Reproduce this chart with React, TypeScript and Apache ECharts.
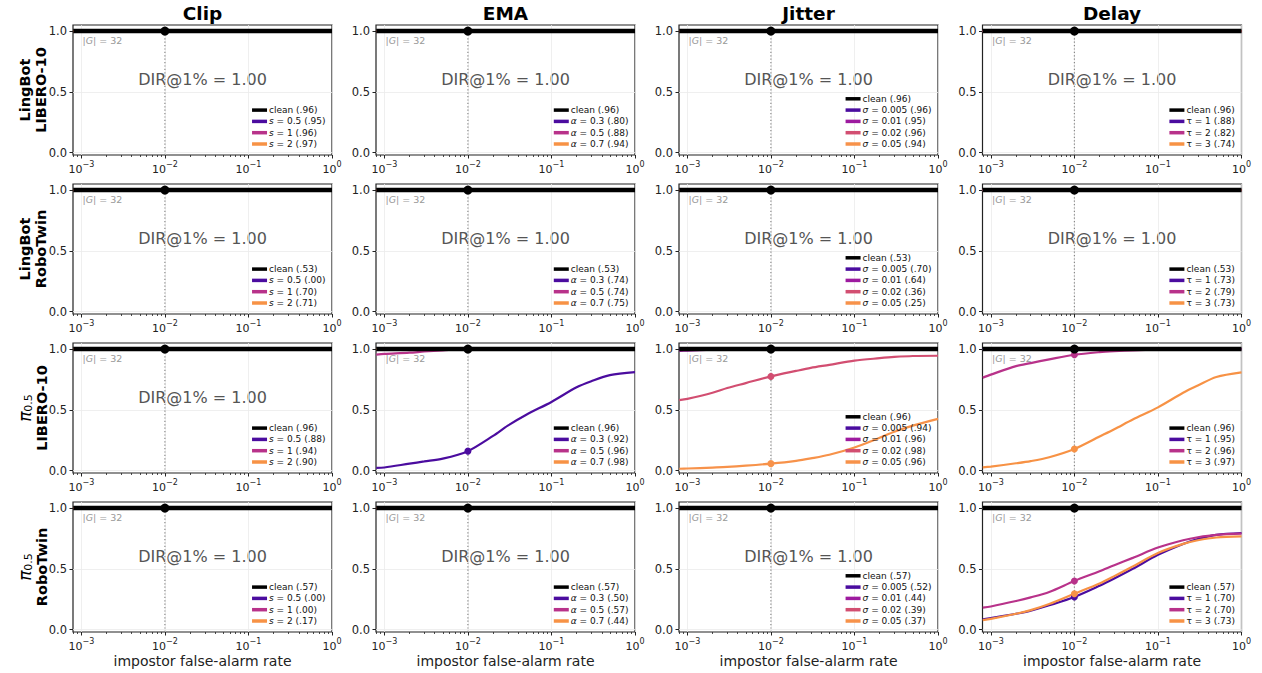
import React, { useEffect, useRef } from "react";
import * as echarts from "echarts";

const W = 1262;
const H = 673;
const FONT = "DejaVu Sans";

// ---------- layout ----------
const PLOT_LEFTS = [73, 376, 679, 982.5];
const PLOT_TOPS = [25, 184, 343, 502];
const PLOT_W = 259;
const PLOT_H = 130;

const X_MIN = -3.1; // log10(impostor false-alarm rate)
const X_MAX = 0;
const Y_MIN = -0.02;
const Y_MAX = 1.05;

// ---------- text ----------
const COLUMN_TITLES = ["Clip", "EMA", "Jitter", "Delay"];
const ROW_POLICIES = ["LingBot", "LingBot", "π0.5", "π0.5"];
const ROW_BENCHMARKS = ["LIBERO-10", "RoboTwin", "LIBERO-10", "RoboTwin"];
const X_AXIS_NAME = "impostor false-alarm rate";
const GROUP_TEXT = "|G| = 32";
const DIR_TEXT = "DIR@1% = 1.00";

// ---------- ticks ----------
const X_TICK_EXPONENTS = [-3, -2, -1, 0];
const X_MINOR_MULTIPLIERS = [2, 3, 4, 5, 6, 7, 8, 9];
const X_MINOR_DECADES = [-4, -3, -2, -1];
const Y_TICKS = [0, 0.5, 1.0];
const THRESHOLD_FPR = 0.01;

// ---------- data ----------
const FPR = [0.0008, 0.001, 0.002, 0.003, 0.005, 0.01, 0.02, 0.03, 0.05, 0.1, 0.2, 0.3, 0.5, 1];
const CLEAN_TPR = [1, 1, 1, 1, 1, 1, 1, 1, 1, 1, 1, 1, 1, 1];
const SATURATED_TPR = [1, 1, 1, 1, 1, 1, 1, 1, 1, 1, 1, 1, 1, 1];

const EMA_PI05_LIBERO_A03 = [0.022, 0.025, 0.057, 0.075, 0.098, 0.16, 0.285, 0.37, 0.46, 0.565, 0.685, 0.735, 0.785, 0.81];
const EMA_PI05_LIBERO_A05 = [0.955, 0.96, 0.97, 0.98, 0.99, 1.0, 1, 1, 1, 1, 1, 1, 1, 1];
const JIT_PI05_LIBERO_S001 = [0.985, 0.988, 0.995, 1, 1, 1, 1, 1, 1, 1, 1, 1, 1, 1];
const JIT_PI05_LIBERO_S002 = [0.58, 0.59, 0.64, 0.68, 0.72, 0.775, 0.82, 0.845, 0.87, 0.905, 0.925, 0.935, 0.943, 0.945];
const JIT_PI05_LIBERO_S005 = [0.015, 0.017, 0.025, 0.03, 0.04, 0.057, 0.08, 0.1, 0.13, 0.19, 0.27, 0.32, 0.37, 0.425];
const DELAY_PI05_LIBERO_T2 = [0.765, 0.79, 0.86, 0.885, 0.915, 0.953, 0.975, 0.983, 0.99, 0.995, 1, 1, 1, 1];
const DELAY_PI05_LIBERO_T3 = [0.027, 0.033, 0.06, 0.078, 0.11, 0.178, 0.28, 0.34, 0.42, 0.52, 0.64, 0.7, 0.77, 0.808];
const DELAY_PI05_ROBO_T1 = [0.085, 0.095, 0.13, 0.155, 0.2, 0.268, 0.36, 0.42, 0.5, 0.615, 0.705, 0.745, 0.78, 0.795];
const DELAY_PI05_ROBO_T2 = [0.18, 0.19, 0.235, 0.265, 0.31, 0.4, 0.48, 0.53, 0.59, 0.675, 0.735, 0.76, 0.78, 0.79];
const DELAY_PI05_ROBO_T3 = [0.078, 0.088, 0.13, 0.16, 0.21, 0.295, 0.38, 0.44, 0.52, 0.63, 0.705, 0.735, 0.758, 0.767];

const S = SATURATED_TPR;

const CLEAN_AUC = [0.96, 0.53, 0.96, 0.57];

const CLIP_LEVELS = ["0.5", "1", "2"];
const EMA_LEVELS = ["0.3", "0.5", "0.7"];
const JITTER_LEVELS = ["0.005", "0.01", "0.02", "0.05"];
const DELAY_LEVELS = ["1", "2", "3"];

const CLIP_AUC = [[0.95, 0.96, 0.97], [0.0, 0.7, 0.71], [0.88, 0.94, 0.9], [0.0, 0.0, 0.17]];
const EMA_AUC = [[0.8, 0.88, 0.94], [0.74, 0.74, 0.75], [0.92, 0.96, 0.98], [0.5, 0.57, 0.44]];
const JITTER_AUC = [[0.96, 0.95, 0.96, 0.94], [0.7, 0.64, 0.36, 0.25], [0.94, 0.96, 0.98, 0.96], [0.52, 0.44, 0.39, 0.37]];
const DELAY_AUC = [[0.88, 0.82, 0.74], [0.73, 0.79, 0.73], [0.95, 0.96, 0.97], [0.7, 0.7, 0.73]];

const CLIP_CURVES = [[S, S, S], [S, S, S], [S, S, S], [S, S, S]];
const EMA_CURVES = [[S, S, S], [S, S, S], [EMA_PI05_LIBERO_A03, EMA_PI05_LIBERO_A05, S], [S, S, S]];
const JITTER_CURVES = [
  [S, S, S, S],
  [S, S, S, S],
  [S, JIT_PI05_LIBERO_S001, JIT_PI05_LIBERO_S002, JIT_PI05_LIBERO_S005],
  [S, S, S, S],
];
const DELAY_CURVES = [
  [S, S, S],
  [S, S, S],
  [S, DELAY_PI05_LIBERO_T2, DELAY_PI05_LIBERO_T3],
  [DELAY_PI05_ROBO_T1, DELAY_PI05_ROBO_T2, DELAY_PI05_ROBO_T3],
];

// DIR@1% per panel (null = not annotated)
const DIR_AT_1PCT = [
  [1, 1, 1, 1],
  [1, 1, 1, 1],
  [1, null, null, null],
  [1, 1, 1, null],
];

// ---------- styles ----------
const COLORS_3 = ["#4b0c9f", "#b8328a", "#f79245"];
const COLORS_4 = ["#4a0c9f", "#9d1a9f", "#d24e71", "#f7924a"];

const GROUPS = [
  { symbol: "s", italic: true, levels: CLIP_LEVELS, auc: CLIP_AUC, curves: CLIP_CURVES, colors: COLORS_3 },
  { symbol: "α", italic: true, levels: EMA_LEVELS, auc: EMA_AUC, curves: EMA_CURVES, colors: COLORS_3 },
  { symbol: "σ", italic: true, levels: JITTER_LEVELS, auc: JITTER_AUC, curves: JITTER_CURVES, colors: COLORS_4 },
  { symbol: "τ", italic: false, levels: DELAY_LEVELS, auc: DELAY_AUC, curves: DELAY_CURVES, colors: COLORS_3 },
];

function fmtAuc(v: number): string {
  const s = v.toFixed(2);
  return v >= 1 ? s : s.slice(1);
}

function supLabel(v: number): string {
  const e = Math.round(v);
  const txt = e < 0 ? "\u2212" + Math.abs(e) : String(e);
  return "{b|10}{sup|" + txt + "}";
}

function buildOption() {
  const grids: any[] = [];
  const xAxes: any[] = [];
  const minorAxes: any[] = [];
  const yAxes: any[] = [];
  const series: any[] = [];
  const legends: any[] = [];
  const graphics: any[] = [];
  const legendRich: Record<string, string> = {};

  const minorVals: number[] = [];
  X_MINOR_DECADES.forEach((d) =>
    X_MINOR_MULTIPLIERS.forEach((k) => {
      const v = Math.log10(k * Math.pow(10, d));
      if (v >= X_MIN && v <= X_MAX) minorVals.push(v);
    })
  );

  const logX = FPR.map((f) => Math.log10(f));
  const thrIdx = FPR.indexOf(THRESHOLD_FPR);
  const thrX = Math.log10(THRESHOLD_FPR);

  for (let r = 0; r < 4; r++) {
    for (let c = 0; c < 4; c++) {
      const i = r * 4 + c;
      const left = PLOT_LEFTS[c];
      const top = PLOT_TOPS[r];
      const g = GROUPS[c];

      grids.push({
        left,
        top,
        width: PLOT_W,
        height: PLOT_H,
        show: true,
        borderColor: "#222",
        borderWidth: 1.2,
        backgroundColor: "transparent",
        containLabel: false,
      });

      xAxes.push({
        type: "value",
        gridIndex: i,
        position: "bottom",
        min: X_MIN,
        max: X_MAX,
        splitNumber: 3,
        axisLine: { show: false, onZero: false },
        axisTick: {
          show: true,
          customValues: X_TICK_EXPONENTS,
          length: 3.5,
          lineStyle: { color: "#222", width: 1 },
        },
        axisLabel: {
          show: true,
          customValues: X_TICK_EXPONENTS,
          formatter: (v: number) => supLabel(v),
          margin: 5,
          rich: {
            b: { fontFamily: FONT, fontSize: 11, color: "#222", lineHeight: 18, verticalAlign: "middle" },
            sup: { fontFamily: FONT, fontSize: 8, color: "#222", lineHeight: 9, verticalAlign: "top" },
          },
        },
        splitLine: { show: true, lineStyle: { color: "#ebebeb", width: 0.8 } },
        name: r === 3 ? X_AXIS_NAME : "",
        nameLocation: "middle",
        nameGap: 22,
        nameTextStyle: { fontFamily: FONT, fontSize: 14, color: "#222" },
      });

      minorAxes.push({
        type: "value",
        gridIndex: i,
        position: "bottom",
        min: X_MIN,
        max: X_MAX,
        splitNumber: 3,
        axisLine: { show: false, onZero: false },
        axisTick: {
          show: true,
          customValues: minorVals,
          length: 2,
          lineStyle: { color: "#222", width: 0.8 },
        },
        axisLabel: { show: false },
        splitLine: { show: false },
      });

      yAxes.push({
        type: "value",
        gridIndex: i,
        min: Y_MIN,
        max: Y_MAX,
        splitNumber: 2,
        axisLine: { show: false, onZero: false },
        axisTick: {
          show: true,
          customValues: Y_TICKS,
          length: 3.5,
          lineStyle: { color: "#222", width: 1 },
        },
        axisLabel: {
          show: true,
          customValues: Y_TICKS,
          formatter: (v: number) => v.toFixed(1),
          fontFamily: FONT,
          fontSize: 11.5,
          color: "#222",
          margin: 6,
        },
        splitLine: { show: true, lineStyle: { color: "#ebebeb", width: 0.8 } },
      });

      // threshold line at 1% FPR
      series.push({
        type: "line",
        xAxisIndex: i,
        yAxisIndex: i,
        data: [
          [thrX, Y_MIN],
          [thrX, Y_MAX],
        ],
        symbol: "none",
        silent: true,
        z: 1,
        lineStyle: { color: "#888", width: 1.2, type: [1.2, 2.2] },
        emphasis: { disabled: true },
      });

      const legendNames: string[] = [];
      const cleanName = "clean (" + fmtAuc(CLEAN_AUC[r]) + ")";
      legendNames.push(cleanName);
      legendRich[cleanName] = cleanName;

      g.levels.forEach((lv, k) => {
        const name = g.symbol + " = " + lv + " (" + fmtAuc(g.auc[r][k]) + ")";
        legendNames.push(name);
        legendRich[name] = g.italic
          ? "{i|" + g.symbol + "} = " + lv + " (" + fmtAuc(g.auc[r][k]) + ")"
          : name;
        const ys = g.curves[r][k];
        const color = g.colors[k];
        series.push({
          type: "line",
          name,
          xAxisIndex: i,
          yAxisIndex: i,
          data: logX.map((x, j) => [x, ys[j]]),
          symbol: "none",
          showSymbol: false,
          smooth: 0.3,
          silent: true,
          z: 2,
          lineStyle: { color, width: 2.2 },
          itemStyle: { color },
          emphasis: { disabled: true },
        });
        series.push({
          type: "scatter",
          xAxisIndex: i,
          yAxisIndex: i,
          data: [[thrX, ys[thrIdx]]],
          symbolSize: 7,
          silent: true,
          z: 3,
          itemStyle: { color, opacity: 1 },
          emphasis: { disabled: true },
        });
      });

      series.push({
        type: "line",
        name: cleanName,
        xAxisIndex: i,
        yAxisIndex: i,
        data: logX.map((x, j) => [x, CLEAN_TPR[j]]),
        symbol: "none",
        showSymbol: false,
        silent: true,
        z: 4,
        lineStyle: { color: "#000", width: 4.5 },
        itemStyle: { color: "#000" },
        emphasis: { disabled: true },
      });
      series.push({
        type: "scatter",
        xAxisIndex: i,
        yAxisIndex: i,
        data: [[thrX, CLEAN_TPR[thrIdx]]],
        symbolSize: 9,
        silent: true,
        z: 5,
        itemStyle: { color: "#000", opacity: 1 },
        emphasis: { disabled: true },
      });

      legends.push({
        show: true,
        orient: "vertical",
        right: W - (left + PLOT_W) + 6.5,
        bottom: H - (top + PLOT_H) + 6,
        padding: 0,
        itemWidth: 15,
        itemHeight: 3.5,
        itemGap: 1.3,
        icon: "rect",
        selectedMode: false,
        align: "left",
        data: legendNames,
        formatter: (name: string) => legendRich[name] || name,
        textStyle: {
          fontFamily: FONT,
          fontSize: 9,
          color: "#111",
          lineHeight: 10,
          padding: [0, 0, 0, -3],
          rich: {
            i: { fontFamily: FONT, fontSize: 9, fontStyle: "italic", color: "#111", lineHeight: 10 },
          },
        },
      });

      graphics.push({
        type: "text",
        x: left + 9.5,
        y: top + 15,
        silent: true,
        style: {
          text: "|{i|G}| = 32",
          fill: "#999",
          fontFamily: FONT,
          fontSize: 9.5,
          align: "left",
          verticalAlign: "middle",
          rich: {
            n: { fontFamily: FONT, fontSize: 9.5, fill: "#999", color: "#999" },
            i: { fontFamily: FONT, fontSize: 9.5, fontStyle: "italic", fill: "#999", color: "#999" },
          },
        },
      });

      if (DIR_AT_1PCT[r][c] !== null) {
        graphics.push({
          type: "text",
          x: left + PLOT_W / 2,
          y: top + 54.5,
          silent: true,
          style: {
            text: DIR_TEXT,
            fill: "#555",
            fontFamily: FONT,
            fontSize: 16,
            align: "center",
            verticalAlign: "middle",
          },
        });
      }
    }
  }

  // column titles
  COLUMN_TITLES.forEach((t, c) => {
    graphics.push({
      type: "text",
      x: PLOT_LEFTS[c] + PLOT_W / 2,
      y: 13,
      silent: true,
      style: {
        text: t,
        fill: "#000",
        fontFamily: FONT,
        fontSize: 18.5,
        fontWeight: "bold",
        align: "center",
        verticalAlign: "middle",
      },
    });
  });

  // row labels
  ROW_POLICIES.forEach((p, r) => {
    const isPi = p.startsWith("π");
    const first = isPi ? "{pi|π}{sub|" + p.slice(1) + "}" : "{b|" + p + "}";
    graphics.push({
      type: "text",
      x: 33,
      y: PLOT_TOPS[r] + PLOT_H / 2,
      rotation: Math.PI / 2,
      silent: true,
      style: {
        text: first + "\n{b|" + ROW_BENCHMARKS[r] + "}",
        fill: "#000",
        align: "center",
        verticalAlign: "middle",
        rich: {
          b: { fontFamily: FONT, fontSize: 14.5, fontWeight: "bold", fill: "#000", color: "#000", lineHeight: 16 },
          pi: { fontFamily: FONT, fontSize: 17, fontStyle: "italic", fill: "#000", color: "#000", lineHeight: 18 },
          sub: { fontFamily: FONT, fontSize: 11, fill: "#000", color: "#000", lineHeight: 18, verticalAlign: "bottom" },
        },
      },
    });
  });

  return {
    animation: false,
    backgroundColor: "#fff",
    textStyle: { fontFamily: FONT },
    grid: grids,
    xAxis: [...xAxes, ...minorAxes],
    yAxis: yAxes,
    series,
    legend: legends,
    graphic: graphics,
  };
}

export default function App() {
  const ref = useRef<HTMLDivElement>(null);
  useEffect(() => {
    if (!ref.current) return;
    const chart = echarts.init(ref.current, undefined, { renderer: "svg" });
    chart.setOption(buildOption() as any);
    return () => {
      chart.dispose();
    };
  }, []);
  return (
    <div
      ref={ref}
      style={{ position: "fixed", left: 0, top: 0, width: W, height: H, background: "#fff" }}
    />
  );
}
